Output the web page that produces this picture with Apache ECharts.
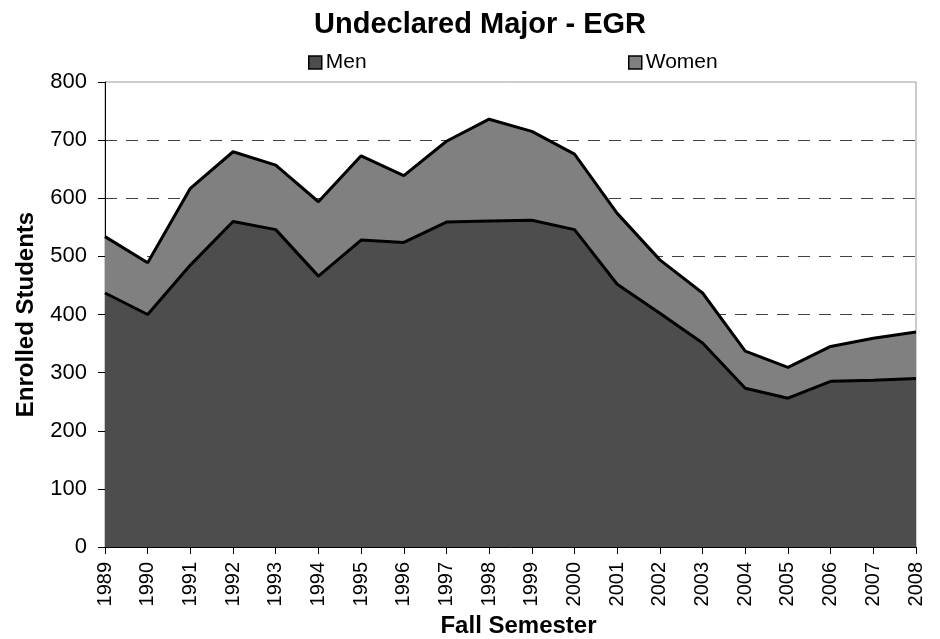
<!DOCTYPE html>
<html>
<head>
<meta charset="utf-8">
<script src="https://cdn.jsdelivr.net/npm/echarts@6/dist/echarts.min.js"></script>
<style>
  html, body { margin: 0; padding: 0; background: #fff; }
  #chart { width: 940px; height: 639px; }
</style>
</head>
<body>
<div id="chart"></div>
<script>
// Fall enrollment of undeclared engineering majors, by sex
const years = ['1989','1990','1991','1992','1993','1994','1995','1996','1997','1998',
               '1999','2000','2001','2002','2003','2004','2005','2006','2007','2008'];
const men   = [437, 400, 485, 560, 546, 466, 528, 524, 559, 561,
               562, 546, 452, 402, 351, 273, 256, 285, 287, 290];
const women = [ 97,  89, 132, 120, 111, 128, 145, 115, 139, 175,
               153, 130, 122,  92,  86,  64,  53,  60,  72,  80];
const yTicks = [0, 100, 200, 300, 400, 500, 600, 700, 800];

const FONT = '"Liberation Sans", Arial, sans-serif';
const chart = echarts.init(document.getElementById('chart'));

function legendAt(name, left) {
  return {
    data: [name], left: left, top: 52, padding: 0, icon: 'rect',
    itemWidth: 13, itemHeight: 13, itemGap: 0,
    itemStyle: { borderColor: '#000', borderWidth: 1.5 },
    textStyle: { fontFamily: FONT, fontSize: 21, color: '#000', padding: [0, 0, 0, -1] }
  };
}

chart.setOption({
  animation: false,
  backgroundColor: '#fff',
  title: {
    text: 'Undeclared Major - EGR',
    left: 475,
    textAlign: 'center',
    top: 5,
    textStyle: { fontFamily: FONT, fontSize: 29, fontWeight: 'bold', color: '#000' }
  },
  legend: [legendAt('Men', 308), legendAt('Women', 628)],
  grid: {
    left: 105, right: 24, top: 82, bottom: 92,
    containLabel: false,
    outerBoundsMode: 'none',
    show: true, borderColor: '#999', borderWidth: 1
  },
  xAxis: {
    type: 'category',
    data: years,
    boundaryGap: false,
    name: 'Fall Semester',
    nameLocation: 'middle',
    nameGap: 66,
    nameTextStyle: {
      fontFamily: FONT, fontSize: 24, fontWeight: 'bold', color: '#000',
      padding: [0, 0, 0, 16]
    },
    axisLine: { lineStyle: { color: '#000', width: 1 } },
    axisTick: { show: true, length: 7, lineStyle: { color: '#000' } },
    axisLabel: {
      rotate: 90, fontFamily: FONT, fontSize: 20, color: '#000', margin: 15
    },
    splitLine: { show: false }
  },
  yAxis: {
    type: 'value',
    min: yTicks[0],
    max: yTicks[yTicks.length - 1],
    interval: 100,
    name: 'Enrolled Students',
    nameLocation: 'middle',
    nameGap: 67,
    nameTextStyle: { fontFamily: FONT, fontSize: 24, fontWeight: 'bold', color: '#000' },
    axisLine: { show: true, lineStyle: { color: '#000', width: 1 } },
    axisTick: { show: true, length: 7, lineStyle: { color: '#000' } },
    axisLabel: { fontFamily: FONT, fontSize: 22, color: '#000', margin: 18 },
    splitLine: {
      show: true,
      showMinLine: false,
      showMaxLine: false,
      lineStyle: { color: '#404040', type: [12, 9], width: 1 }
    }
  },
  series: [
    {
      name: 'Men',
      type: 'line',
      stack: 'total',
      data: men,
      symbol: 'none',
      z: 3,
      itemStyle: { color: '#4d4d4d' },
      lineStyle: { color: '#000', width: 3 },
      areaStyle: { color: '#4d4d4d', opacity: 1 }
    },
    {
      name: 'Women',
      type: 'line',
      stack: 'total',
      data: women,
      symbol: 'none',
      z: 2,
      itemStyle: { color: '#808080' },
      lineStyle: { color: '#000', width: 3 },
      areaStyle: { color: '#808080', opacity: 1 }
    }
  ]
});
</script>
</body>
</html>
